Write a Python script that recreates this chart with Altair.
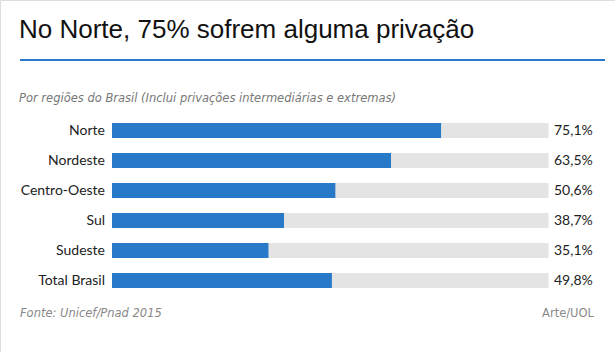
import altair as alt
import pandas as pd

regions = ["Norte", "Nordeste", "Centro-Oeste", "Sul", "Sudeste", "Total Brasil"]
values = [75.1, 63.5, 50.6, 38.7, 35.1, 49.8]

title_text = "No Norte, 75% sofrem alguma privação"
subtitle_text = "Por regiões do Brasil (Inclui privações intermediárias e extremas)"
source_text = "Fonte: Unicef/Pnad 2015"
credit_text = "Arte/UOL"

df = pd.DataFrame({"region": regions, "value": values})

BLUE = "#2979c9"
GRAY = "#e4e4e4"
DMIN = -1.16  # bars begin slightly left of the zero point, as in the original

xs = alt.Scale(domain=[DMIN, 100], range=[112, 548.5], zero=False, nice=False)
ys = alt.Scale(domain=regions, range=[115.5, 295.5], paddingInner=0.5, paddingOuter=0.25)

base = alt.Chart(df).encode(
    y=alt.Y("region:N", scale=ys, axis=None, sort=regions)
).transform_calculate(start=str(DMIN), full="100")

bg = base.mark_bar(color=GRAY).encode(
    x=alt.X("start:Q", scale=xs, axis=None), x2="full:Q"
)
bars = base.mark_bar(color=BLUE).encode(
    x=alt.X("start:Q", scale=xs, axis=None), x2="value:Q"
)
cat_labels = base.mark_text(align="right", baseline="middle", font="Lato", fontSize=14, color="#222").encode(
    x=alt.value(105), text="region:N"
)
val_labels = base.transform_calculate(
    lab="replace(format(datum.value, '.1f'), '.', ',') + '%'"
).mark_text(align="left", baseline="middle", font="Lato", fontSize=14, color="#222").encode(
    x=alt.value(554), text="lab:N"
)

def txt(s, x, y, **kw):
    return alt.Chart(pd.DataFrame({"t": [s]})).mark_text(**kw).encode(
        x=alt.value(x), y=alt.value(y), text="t:N"
    )

title = txt(title_text, 19, 38, align="left", baseline="alphabetic", font="Liberation Sans", fontSize=26, color="#111")
rule = alt.Chart(pd.DataFrame({"a": [0]})).mark_rule(color=BLUE, strokeWidth=2).encode(
    x=alt.value(20), x2=alt.value(605), y=alt.value(60)
)
subtitle = txt(subtitle_text, 19, 99, align="left", baseline="middle", font="DejaVu Sans", fontSize=11.5, fontStyle="italic", color="#777")
source = txt(source_text, 20, 314, align="left", baseline="middle", font="DejaVu Sans", fontSize=11.5, fontStyle="italic", color="#888")
credit = txt(credit_text, 594, 314, align="right", baseline="middle", font="DejaVu Sans", fontSize=11.5, color="#888")

chart = alt.layer(bg, bars, cat_labels, val_labels, title, rule, subtitle, source, credit).properties(
    width=615, height=352, padding=0, autosize=alt.AutoSizeParams(type="none")
).configure_view(stroke=None).configure(background="white")

chart.save("out.html", embed_options={"renderer": "svg", "actions": False})
